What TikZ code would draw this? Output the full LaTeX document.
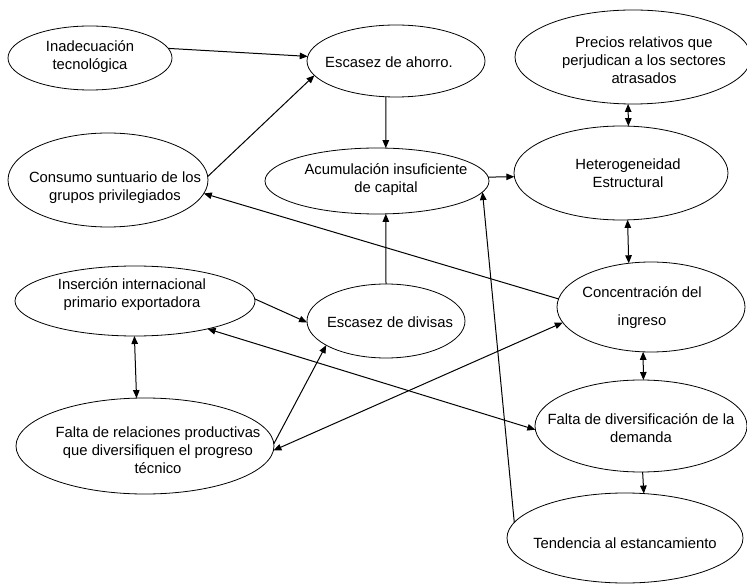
\documentclass[tikz,border=0pt]{standalone}
\usepackage{fontspec}
\setmainfont{Liberation Sans}
\usetikzlibrary{shapes.geometric,arrows.meta}
\tikzset{
  ell/.style 2 args={draw, ellipse, line width=0.8pt, inner sep=0pt, outer sep=0pt,
    minimum width=#1, minimum height=#2},
  lbl/.style={align=center, inner sep=0pt, font=\fontsize{14.8}{18}\selectfont},
  conn/.style={line width=1pt, -{Triangle[length=8pt,width=6.5pt]}},
  conn2/.style={line width=1pt, {Triangle[length=8pt,width=6.5pt]}-{Triangle[length=8pt,width=6.5pt]}}
}
\begin{document}
\begin{tikzpicture}[x=1pt,y=-1pt]
\useasboundingbox[fill=white] (0,0) rectangle (747,585);
% ellipses
\node[ell={164pt}{64pt}] (inad) at (90,58) {};
\node[ell={178pt}{72pt}] (ahorro) at (396,61) {};
\node[ell={236pt}{94pt}] (precios) at (633,57) {};
\node[ell={200pt}{94pt}] (consumo) at (108,180) {};
\node[ell={224pt}{66pt}] (acum) at (377,181) {};
\node[ell={214pt}{94pt}] (hetero) at (621,173) {};
\node[ell={240pt}{70pt}] (insercion) at (135,301) {};
\node[ell={158pt}{74pt}] (divisas) at (386,321) {};
\node[ell={188pt}{90pt}] (concent) at (651,307) {};
\node[ell={258pt}{96pt}] (faltarel) at (145,446) {};
\node[ell={212pt}{92pt}] (faltadiv) at (641,426) {};
\node[ell={236pt}{90pt}] (tend) at (625,538) {};
% labels
\node[lbl] (tinad) at (90,57) {Inadecuación\\tecnológica};
\node[lbl] (tahorro) at (389,62) {Escasez de ahorro.};
\node[lbl] (tprecios) at (644,60) {Precios relativos que\\perjudican a los sectores\\atrasados};
\node[lbl] (tconsumo) at (115,188) {Consumo suntuario de los\\grupos privilegiados};
\node[lbl] (tacum) at (386,180) {Acumulación insuficiente\\de capital};
\node[lbl] (thetero) at (628,173) {Heterogeneidad\\Estructural};
\node[lbl] (tinsercion) at (132,295) {Inserción internacional\\primario exportadora};
\node[lbl] (tdivisas) at (390,322) {Escasez de divisas};
\node[lbl] (tconcent) at (642,308) {Concentración del\\[10pt]ingreso};
\node[lbl] (tfaltarel) at (158,450) {Falta de relaciones productivas\\que diversifiquen el progreso\\técnico};
\node[lbl] (tfaltadiv) at (641,428) {Falta de diversificación de la\\demanda};
\node[lbl] (ttend) at (625,543) {Tendencia al estancamiento};
% connectors
\draw[conn] (inad.7) -- (ahorro.177);
\draw[conn] (consumo.2) -- (ahorro.190);
\draw[conn] (ahorro.254) -- (acum.75);
\draw[conn] (acum.2) -- (hetero.182);
\draw[conn2] (precios.264) -- (hetero.81.5);
\draw[conn2] (hetero.278.5) -- (concent.117.6);
\draw[conn] (concent.175) -- (consumo.352);
\draw[conn] (divisas.north) -- (acum.285);
\draw[conn] (tend.172) -- (acum.354);
\draw[conn] (insercion.1) -- (divisas.181);
\draw[conn2] (insercion.269) -- (faltarel.100);
\draw[conn] (faltarel.1.3) -- (divisas.202);
\draw[conn2] (concent.190) -- (faltarel.358);
\draw[conn2] (insercion.339) -- (faltadiv.182);
\draw[conn2] (concent.260) -- (faltadiv.87.5);
\draw[conn] (faltadiv.272.5) -- (tend.67.3);
\end{tikzpicture}
\end{document}
